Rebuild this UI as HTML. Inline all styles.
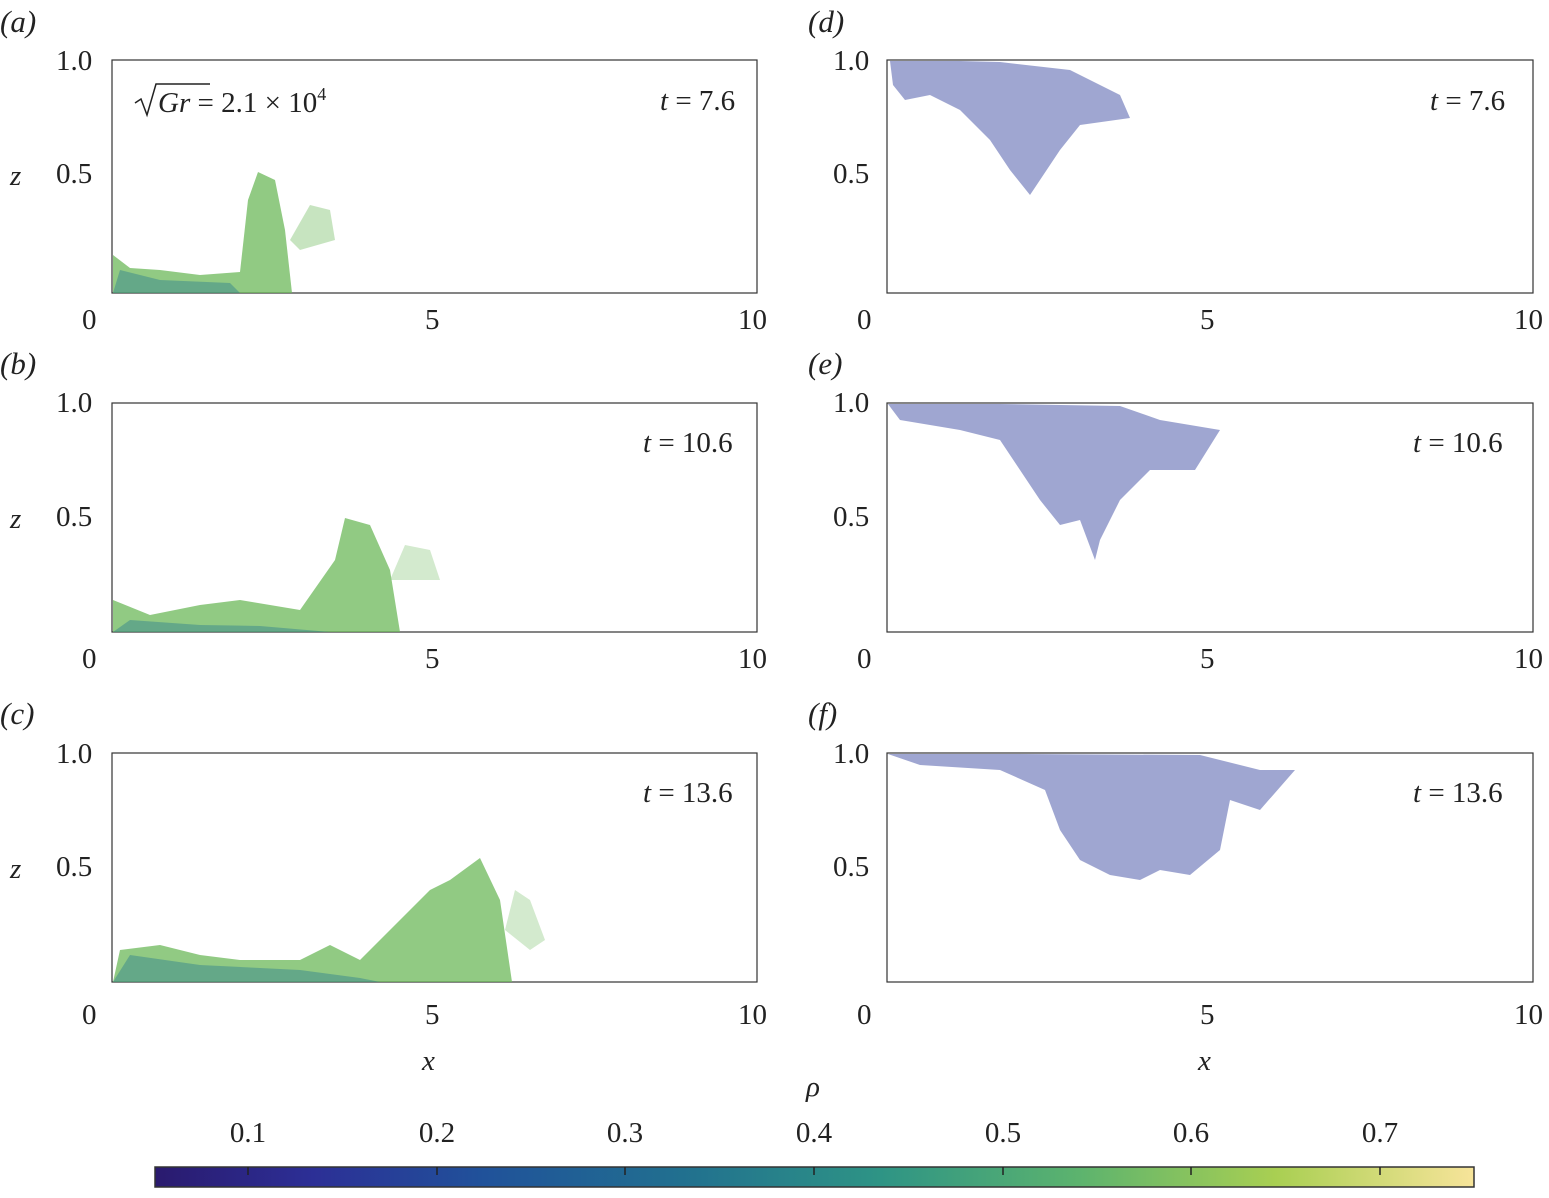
<!DOCTYPE html>
<html><head><meta charset="utf-8"><style>
body{margin:0;background:#fff;}
svg text{font-family:"Liberation Serif",serif;fill:#222;}
</style></head><body>
<svg width="1549" height="1193" viewBox="0 0 1549 1193" xmlns="http://www.w3.org/2000/svg">
<defs>
<linearGradient id="vir" x1="0" x2="1" y1="0" y2="0">
<stop offset="0" stop-color="#2a1a6e"/>
<stop offset="0.12" stop-color="#2c2f96"/>
<stop offset="0.25" stop-color="#20529a"/>
<stop offset="0.4" stop-color="#21708f"/>
<stop offset="0.55" stop-color="#2e9485"/>
<stop offset="0.7" stop-color="#5cb36e"/>
<stop offset="0.85" stop-color="#a9cf52"/>
<stop offset="1" stop-color="#f7e49a"/>
</linearGradient>
</defs>
<g font-size="31">
<g fill="none" stroke="#333" stroke-width="1.2">
<rect x="112" y="60" width="645" height="233"/>
<rect x="112" y="403" width="645" height="229"/>
<rect x="112" y="753" width="645" height="229"/>
<rect x="887" y="60" width="646" height="233"/>
<rect x="887" y="403" width="646" height="229"/>
<rect x="887" y="753" width="646" height="229"/>
</g>
<text x="0" y="32" font-style="italic">(a)</text>
<text x="0" y="374" font-style="italic">(b)</text>
<text x="0" y="724" font-style="italic">(c)</text>
<text x="808" y="32" font-style="italic">(d)</text>
<text x="808" y="374" font-style="italic">(e)</text>
<text x="808" y="724" font-style="italic">(f)</text>
<g font-size="29">
<text x="56" y="70">1.0</text><text x="56" y="183">0.5</text><text x="10" y="185" font-style="italic">z</text>
<text x="56" y="412">1.0</text><text x="56" y="526">0.5</text><text x="10" y="528" font-style="italic">z</text>
<text x="56" y="763">1.0</text><text x="56" y="876">0.5</text><text x="10" y="878" font-style="italic">z</text>
<text x="833" y="70">1.0</text><text x="833" y="183">0.5</text>
<text x="833" y="412">1.0</text><text x="833" y="526">0.5</text>
<text x="833" y="763">1.0</text><text x="833" y="876">0.5</text>
<text x="82" y="329">0</text><text x="425" y="329">5</text><text x="738" y="329">10</text>
<text x="82" y="668">0</text><text x="425" y="668">5</text><text x="738" y="668">10</text>
<text x="82" y="1024">0</text><text x="425" y="1024">5</text><text x="738" y="1024">10</text>
<text x="857" y="329">0</text><text x="1200" y="329">5</text><text x="1514" y="329">10</text>
<text x="857" y="668">0</text><text x="1200" y="668">5</text><text x="1514" y="668">10</text>
<text x="857" y="1024">0</text><text x="1200" y="1024">5</text><text x="1514" y="1024">10</text>
<text x="422" y="1070" font-style="italic">x</text>
<text x="1198" y="1070" font-style="italic">x</text>
<text x="806" y="1096" font-style="italic">ρ</text>
<text x="660" y="110"><tspan font-style="italic">t</tspan> = 7.6</text>
<text x="643" y="452"><tspan font-style="italic">t</tspan> = 10.6</text>
<text x="643" y="802"><tspan font-style="italic">t</tspan> = 13.6</text>
<text x="1430" y="110"><tspan font-style="italic">t</tspan> = 7.6</text>
<text x="1413" y="452"><tspan font-style="italic">t</tspan> = 10.6</text>
<text x="1413" y="802"><tspan font-style="italic">t</tspan> = 13.6</text>
<path d="M135 103 L141 99 L147 115 L156 84 L210 84" fill="none" stroke="#222" stroke-width="1.5"/>
<text x="158" y="112"><tspan font-style="italic">Gr</tspan> = 2.1 × 10<tspan font-size="18" dy="-12">4</tspan></text>
</g>
<g fill="#6cb85a" opacity="0.75">
<path d="M113 293 L113 255 L130 268 L160 270 L200 275 L240 272 L248 200 L258 172 L275 180 L285 230 L292 293 Z"/>
<path d="M290 240 L310 205 L330 210 L335 240 L300 250 Z" opacity="0.5"/>
<path d="M113 632 L113 600 L150 615 L200 605 L240 600 L300 610 L335 560 L345 518 L370 525 L390 570 L400 632 Z"/>
<path d="M390 580 L405 545 L430 550 L440 580 Z" opacity="0.4"/>
<path d="M113 982 L120 950 L160 945 L200 955 L240 960 L300 960 L330 945 L360 960 L400 920 L430 890 L450 880 L480 858 L500 900 L512 982 Z"/>
<path d="M505 930 L515 890 L530 900 L545 940 L530 950 Z" opacity="0.4"/>
</g>
<g fill="#2f7f8f" opacity="0.45">
<path d="M113 293 L120 270 L160 280 L230 283 L240 293 Z"/>
<path d="M113 632 L130 620 L200 625 L260 626 L330 632 Z"/>
<path d="M113 982 L130 955 L200 965 L300 970 L360 978 L380 982 Z"/>
</g>
<g fill="#2a3a9a" opacity="0.45">
<path d="M890 61 L960 61 L1000 62 L1070 70 L1120 95 L1130 118 L1080 125 L1060 150 L1030 195 L1010 170 L990 140 L960 110 L930 95 L905 100 L893 85 Z"/>
<path d="M888 404 L1000 404 L1120 406 L1160 420 L1220 430 L1195 470 L1150 470 L1120 500 L1100 540 L1095 560 L1080 520 L1060 525 L1040 500 L1020 470 L1000 440 L960 430 L900 420 Z"/>
<path d="M888 754 L1020 754 L1200 755 L1260 770 L1295 770 L1260 810 L1230 800 L1220 850 L1190 875 L1160 870 L1140 880 L1110 875 L1080 860 L1060 830 L1045 790 L1000 770 L920 765 Z"/>
</g>
<rect x="155" y="1167" width="1319" height="20" fill="url(#vir)" stroke="#333" stroke-width="1.5"/>
<g stroke="#222" stroke-width="1.5">
<line x1="248" y1="1167" x2="248" y2="1175"/><line x1="437" y1="1167" x2="437" y2="1175"/>
<line x1="625" y1="1167" x2="625" y2="1175"/><line x1="814" y1="1167" x2="814" y2="1175"/>
<line x1="1003" y1="1167" x2="1003" y2="1175"/><line x1="1191" y1="1167" x2="1191" y2="1175"/>
<line x1="1380" y1="1167" x2="1380" y2="1175"/>
</g>
<g font-size="29" text-anchor="middle">
<text x="248" y="1142">0.1</text><text x="437" y="1142">0.2</text><text x="625" y="1142">0.3</text>
<text x="814" y="1142">0.4</text><text x="1003" y="1142">0.5</text><text x="1191" y="1142">0.6</text>
<text x="1380" y="1142">0.7</text>
</g>
</g>
</svg>
</body></html>
